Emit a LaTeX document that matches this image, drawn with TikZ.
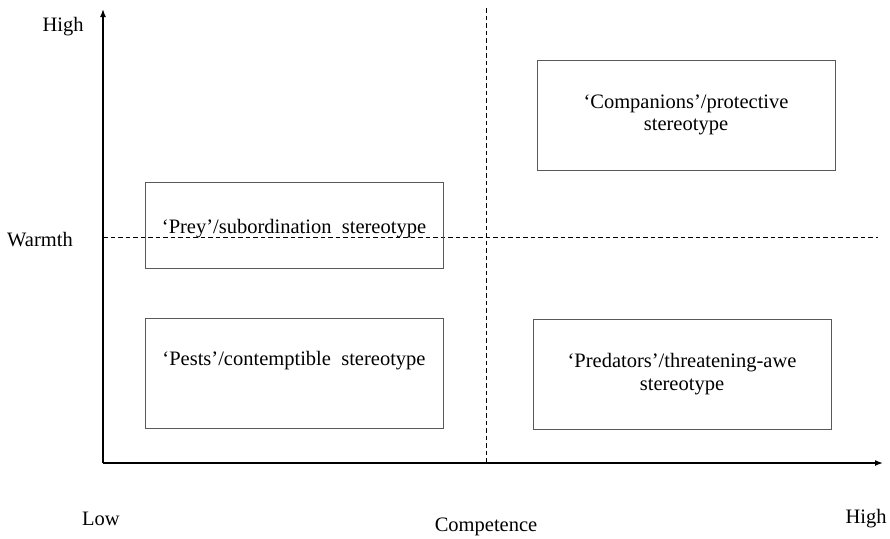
\documentclass[tikz,border=0pt]{standalone}
\usepackage{fontspec}
\setmainfont{Liberation Serif}
\usetikzlibrary{arrows.meta}

\tikzset{
	axis/.style={line width=1.5pt, -{Latex[length=8pt,width=6pt]}},
	split/.style={line width=1pt, dash pattern=on 4.5pt off 3pt},
	quadrant/.style={draw=black!65, line width=0.9pt, align=center,
		minimum width=298pt, minimum height=110pt, inner sep=0pt},
	axislabel/.style={inner sep=0pt}
}

\begin{document}
\begin{tikzpicture}[x=1pt, y=-1pt, font=\fontsize{20.5}{22.5}\selectfont]

		\useasboundingbox (0,0) rectangle (890,538);

		% axes
		\coordinate (origin) at (103,463);
		\coordinate (ytop) at (103,9);
		\coordinate (xend) at (883,463);
		\draw[axis] (origin) -- (ytop);
		\draw[axis] (origin) -- (xend);

		% quadrant lines
		\coordinate (vtop) at (486,8);
		\coordinate (vbot) at (486,463);
		\coordinate (hleft) at (103,237);
		\coordinate (hright) at (878,237);
		\draw[split] (vtop) -- (vbot);
		\draw[split] (hleft) -- (hright);

		% axis labels
		\node[axislabel] (warmhigh) at (63,27) {High};
		\node[axislabel] (warmth) at (40,240) {Warmth};
		\node[axislabel] (complow) at (101,519) {Low};
		\node[axislabel] (competence) at (486,527) {Competence};
		\node[axislabel] (comphigh) at (866,519) {High};

		% stereotype boxes
		\node[quadrant, minimum height=86pt] (prey) at (294,225) {};
		\node (preytext) at (294,229) {‘Prey’/subordination\ \ stereotype};
		\node[quadrant] (companions) at (686,115)
			{‘Companions’/protective\\stereotype};
		\node[quadrant] (pests) at (294,373) {};
		\node (peststext) at (294,361) {‘Pests’/contemptible\ \ stereotype};
		\node[quadrant] (predators) at (682,374)
			{‘Predators’/threatening-awe\\stereotype};

		\end{tikzpicture}
\end{document}
